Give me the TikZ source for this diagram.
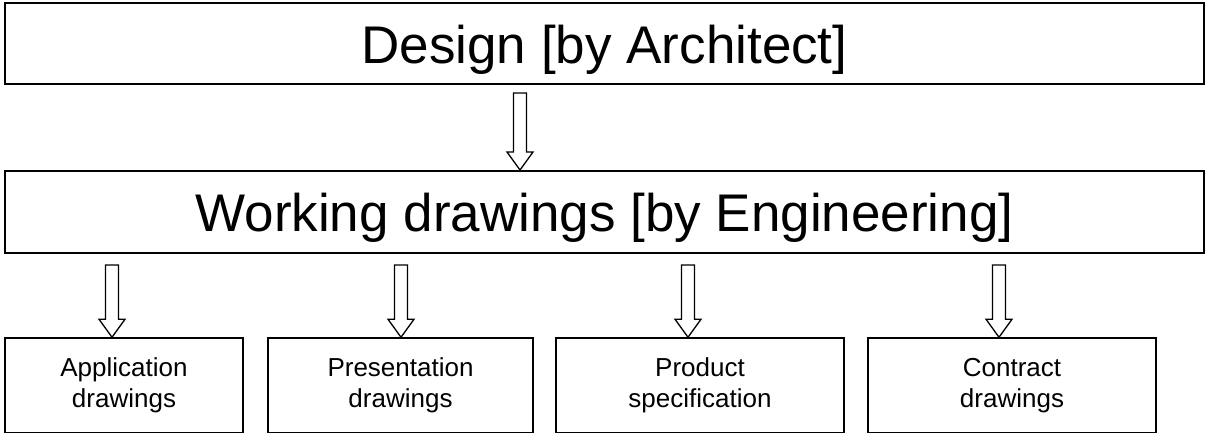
\documentclass[tikz,border=0pt]{standalone}
\usepackage{fontspec}
\setmainfont{Liberation Sans}
\usetikzlibrary{calc}
\newcommand{\topstrut}{\rule{0pt}{22pt}}
\newcommand{\botstrut}{\rule[-8.3pt]{0pt}{8.3pt}}
\tikzset{
  bigbox/.style={draw, line width=2pt, rectangle, inner sep=0pt, minimum width=1199pt, text height=50pt, text depth=11pt, font=\fontsize{53}{60}\selectfont},
  smallbox/.style={draw, line width=1.5pt, rectangle, inner sep=0pt, minimum height=94.5pt, align=center, font=\fontsize{26}{31}\selectfont},
  blockarr/.style={draw, line width=1.3pt, fill=white, line join=miter},
}
\newcommand{\blockarrow}[2]{%
  \path[blockarr] let \p1=(#1), \p2=(#2) in
    (\x1-6.5pt,\y1) -- (\x1+6.5pt,\y1) -- (\x1+6.5pt,\y2+18pt) -- (\x1+13pt,\y2+18pt)
    -- (\x1,\y2) -- (\x1-13pt,\y2+18pt) -- (\x1-6.5pt,\y2+18pt) -- cycle;}
\begin{document}
\begin{tikzpicture}[x=1pt,y=-1pt]
\useasboundingbox (0,0) rectangle (1206,434);
\node[bigbox, minimum height=81pt] (design) at (604.5,43.5) {Design [by Architect]};
\node[bigbox, minimum height=82pt] (work) at (604.5,212) {Working drawings [by Engineering]};
\node[smallbox, minimum width=238pt] (b1) at (124,385.25) {\topstrut Application\\drawings\botstrut};
\node[smallbox, minimum width=265pt] (b2) at (400.5,385.25) {\topstrut Presentation\\drawings\botstrut};
\node[smallbox, minimum width=288pt] (b3) at (700,385.25) {\topstrut Product\\specification\botstrut};
\node[smallbox, minimum width=288pt] (b4) at (1012,385.25) {\topstrut Contract\\drawings\botstrut};
\coordinate (s0) at (520,93);
\coordinate (s1) at (112,265);
\coordinate (s2) at (401,265);
\coordinate (s3) at (688,265);
\coordinate (s4) at (999,265);
\blockarrow{s0}{s0 |- work.north}
\blockarrow{s1}{s1 |- b1.north}
\blockarrow{s2}{s2 |- b2.north}
\blockarrow{s3}{s3 |- b3.north}
\blockarrow{s4}{s4 |- b4.north}
\end{tikzpicture}
\end{document}
